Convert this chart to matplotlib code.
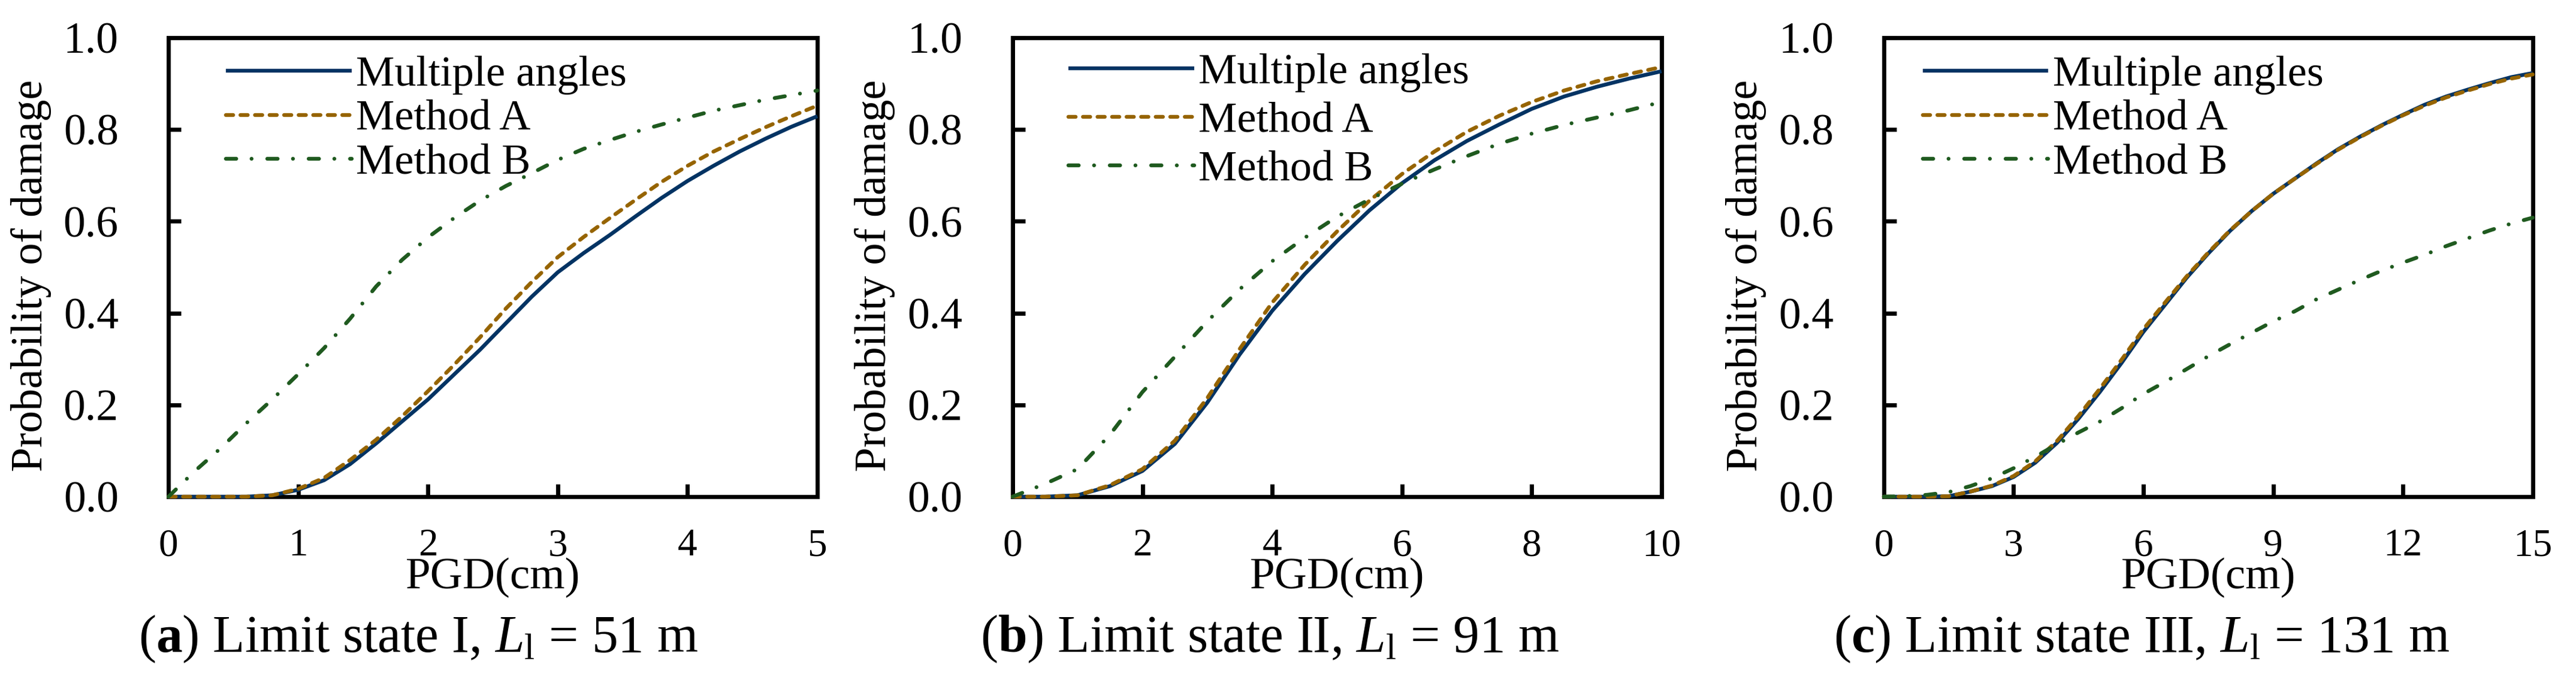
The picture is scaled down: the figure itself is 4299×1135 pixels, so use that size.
import numpy as np
import matplotlib
matplotlib.use("Agg")
import matplotlib.pyplot as plt

plt.rcParams['font.family'] = ['Liberation Serif', 'DejaVu Serif']
plt.rcParams['mathtext.fontset'] = 'custom'
plt.rcParams['mathtext.rm'] = 'Liberation Serif'
plt.rcParams['mathtext.it'] = 'Liberation Serif:italic'
plt.rcParams['mathtext.bf'] = 'Liberation Serif:bold'

# ---- data ----
pgd_a = [0.0, 0.2, 0.4, 0.6, 0.8, 1.0, 1.2, 1.4, 1.6, 1.8, 2.0, 2.2, 2.4,
         2.6, 2.8, 3.0, 3.2, 3.4, 3.6, 3.8, 4.0, 4.2, 4.4, 4.6, 4.8, 5.0]
multi_a = [0.0, 0.0, 0.0, 0.0, 0.003, 0.015, 0.036, 0.071, 0.116, 0.164, 0.212,
           0.266, 0.320, 0.378, 0.436, 0.489, 0.531, 0.570, 0.611, 0.651, 0.688,
           0.721, 0.752, 0.780, 0.806, 0.829]
methA_a = [0.0, 0.0, 0.0, 0.0, 0.003, 0.017, 0.041, 0.080, 0.124, 0.175, 0.230,
           0.287, 0.347, 0.410, 0.468, 0.522, 0.566, 0.607, 0.647, 0.686, 0.721,
           0.752, 0.779, 0.805, 0.829, 0.852]
methB_a = [0.0, 0.055, 0.105, 0.160, 0.212, 0.267, 0.324, 0.388, 0.458, 0.516,
           0.565, 0.607, 0.645, 0.677, 0.705, 0.734, 0.758, 0.777, 0.795, 0.811,
           0.826, 0.841, 0.853, 0.865, 0.875, 0.885]

pgd_b = [0.0, 0.5, 1.0, 1.5, 2.0, 2.5, 3.0, 3.5, 4.0, 4.5, 5.0, 5.5, 6.0, 6.5,
         7.0, 7.5, 8.0, 8.5, 9.0, 9.5, 10.0]
multi_b = [0.0, 0.0, 0.003, 0.023, 0.056, 0.115, 0.205, 0.310, 0.405, 0.485,
           0.557, 0.624, 0.683, 0.733, 0.775, 0.811, 0.845, 0.872, 0.893, 0.911,
           0.927]
methA_b = [0.0, 0.0, 0.003, 0.025, 0.060, 0.122, 0.215, 0.322, 0.423, 0.505,
           0.578, 0.645, 0.703, 0.752, 0.795, 0.830, 0.860, 0.885, 0.905, 0.921,
           0.936]
methB_b = [0.0, 0.028, 0.060, 0.135, 0.228, 0.305, 0.382, 0.452, 0.513, 0.564,
           0.610, 0.648, 0.682, 0.713, 0.742, 0.769, 0.791, 0.810, 0.826, 0.842,
           0.860]

pgd_c = [0.0, 0.5, 1.0, 1.5, 2.0, 2.5, 3.0, 3.5, 4.0, 4.5, 5.0, 5.5, 6.0, 6.5,
         7.0, 7.5, 8.0, 8.5, 9.0, 9.5, 10.0, 10.5, 11.0, 11.5, 12.0, 12.5, 13.0,
         13.5, 14.0, 14.5, 15.0]
multi_c = [0.0, 0.0, 0.0, 0.001, 0.011, 0.023, 0.043, 0.074, 0.117, 0.170, 0.229,
           0.292, 0.359, 0.418, 0.477, 0.530, 0.579, 0.622, 0.660, 0.693, 0.726,
           0.757, 0.784, 0.809, 0.832, 0.854, 0.872, 0.887, 0.901, 0.914, 0.923]
methA_c = [0.0, 0.0, 0.0, 0.001, 0.011, 0.024, 0.045, 0.077, 0.121, 0.176, 0.236,
           0.299, 0.365, 0.423, 0.480, 0.532, 0.580, 0.622, 0.660, 0.693, 0.725,
           0.756, 0.783, 0.808, 0.831, 0.852, 0.870, 0.885, 0.899, 0.911, 0.920]
methB_c = [0.0, 0.001, 0.004, 0.010, 0.023, 0.040, 0.062, 0.087, 0.114, 0.140,
           0.164, 0.193, 0.224, 0.250, 0.278, 0.306, 0.332, 0.357, 0.382, 0.404,
           0.430, 0.451, 0.472, 0.492, 0.510, 0.527, 0.546, 0.563, 0.580, 0.595,
           0.608]

series_labels = ['Multiple angles', 'Method A', 'Method B']
xticks_all = [[0, 1, 2, 3, 4, 5], [0, 2, 4, 6, 8, 10], [0, 3, 6, 9, 12, 15]]
yticks = [0.0, 0.2, 0.4, 0.6, 0.8, 1.0]
captions = [r'($\mathbf{a}$) Limit state I, $\mathit{L}_{\mathrm{l}}$ = 51 m',
            r'($\mathbf{b}$) Limit state II, $\mathit{L}_{\mathrm{l}}$ = 91 m',
            r'($\mathbf{c}$) Limit state III, $\mathit{L}_{\mathrm{l}}$ = 131 m']

panels = [(pgd_a, multi_a, methA_a, methB_a),
          (pgd_b, multi_b, methA_b, methB_b),
          (pgd_c, multi_c, methA_c, methB_c)]

colors = ['#023363', '#966400', '#1F5A1F']
styles = ['-', (0, (1.9, 1.9)), (0, (2.7, 4.0, 0.01, 4.1))]

fig = plt.figure(figsize=(42.99, 11.35), dpi=100)
lefts = [0.0654, 0.3931, 0.7313]
cap_x = [0.1624, 0.4929, 0.8313]
leg_x = [0.0886, 0.086, 0.060]
leg_y = [0.961, 0.967, 0.961]
leg_sp = [0.11, 0.22, 0.11]

for i, (xs, m, a, b) in enumerate(panels):
    ax = fig.add_axes([lefts[i], 0.2696, 0.2519, 0.6749])
    for ys, c, ls, lab in zip([m, a, b], colors, styles, series_labels):
        ax.plot(xs, ys, color=c, linestyle=ls, lw=4.6, label=lab,
                dash_capstyle='round', solid_capstyle='butt',
                solid_joinstyle='round', zorder=3, clip_on=False)
    ax.set_xlim(xticks_all[i][0], xticks_all[i][-1])
    ax.set_ylim(0, 1.0)
    ax.set_xticks(xticks_all[i])
    ax.set_yticks(yticks)
    ax.set_yticklabels(['%.1f' % v for v in yticks])
    for s in ax.spines.values():
        s.set_linewidth(5)
    ax.tick_params(axis='both', direction='in', length=15, width=5)
    ax.tick_params(axis='x', labelsize=47, pad=38)
    ax.tick_params(axis='y', labelsize=53, pad=60)

    ax.set_xlabel('PGD(cm)', fontsize=54)
    ax.xaxis.set_label_coords(0.5, -0.2)
    ax.xaxis.label.set_va('baseline')
    ax.set_ylabel('Probability of damage', fontsize=53)
    ax.yaxis.set_label_coords(-0.212, 0.482)
    ax.yaxis.label.set_va('center')

    ax.legend(loc='upper left', bbox_to_anchor=(leg_x[i], leg_y[i]),
              frameon=False, fontsize=52, borderpad=0, borderaxespad=0,
              handlelength=2.9, handletextpad=0.1, labelspacing=leg_sp[i])

    fig.text(cap_x[i], 0.0414, captions[i], fontsize=63, ha='center',
             va='baseline')

fig.savefig('out.png', dpi=100)
